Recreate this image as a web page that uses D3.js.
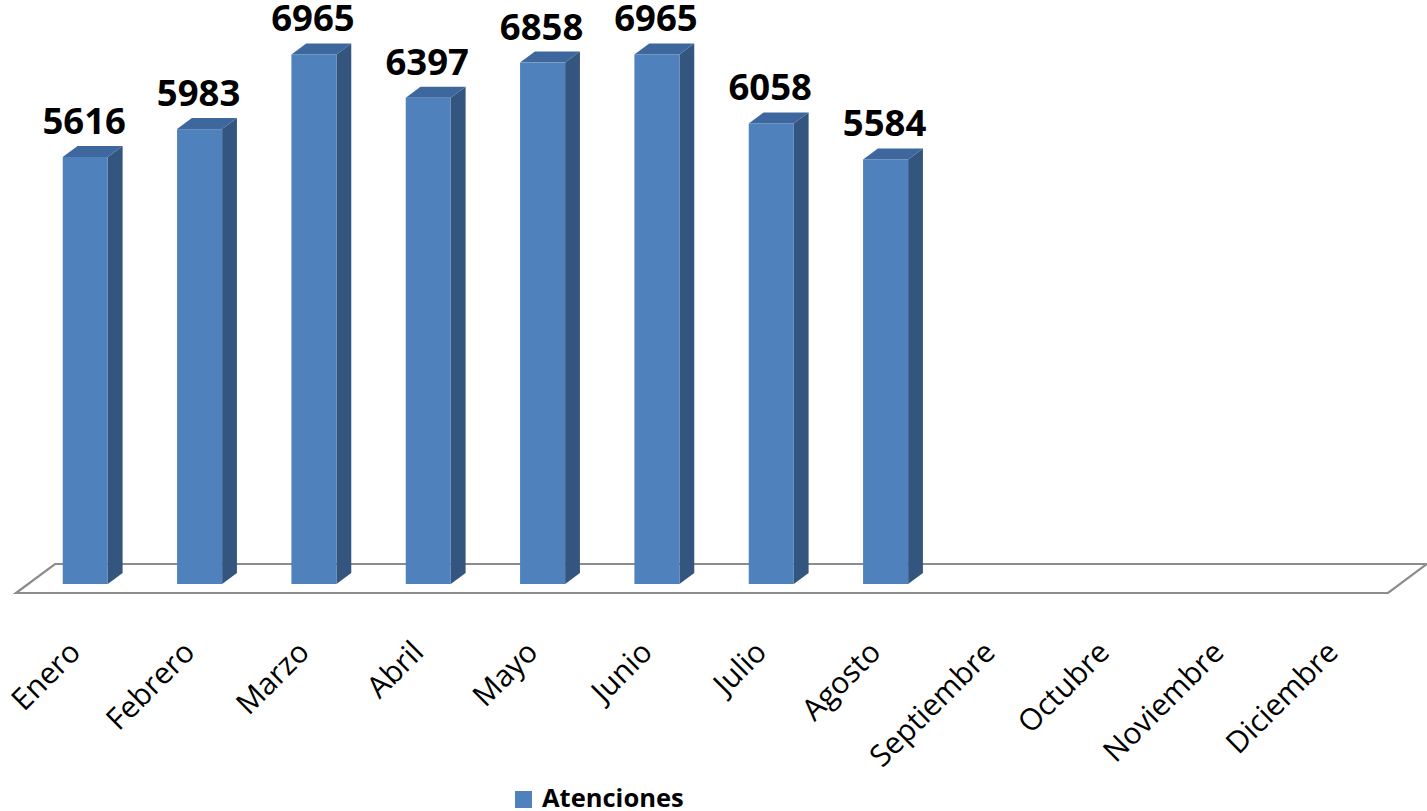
<!DOCTYPE html>
<html>
<head>
<meta charset="utf-8">
<script src="https://cdn.jsdelivr.net/npm/d3@7"></script>
<style>
  html, body { margin: 0; padding: 0; background: #ffffff; }
  svg { display: block; }
</style>
</head>
<body>
<svg id="chart" width="1427" height="811"></svg>
<script>
const categories = ["Enero", "Febrero", "Marzo", "Abril", "Mayo", "Junio", "Julio", "Agosto", "Septiembre", "Octubre", "Noviembre", "Diciembre"];
const values = [5616, 5983, 6965, 6397, 6858, 6965, 6058, 5584, null, null, null, null];
const seriesName = "Atenciones";

const svg = d3.select("#chart");

// floor geometry
const floorFrontY = 593;
const floorLeft = 16, floorRight = 1388;
const depth = { dx: 39, dy: -29 };
const barFront = 0.31, barBack = 0.69;
const fx = depth.dx * barFront, fy = depth.dy * barFront;
const bdx = depth.dx * (barBack - barFront), bdy = depth.dy * (barBack - barFront);

const x = d3.scaleBand()
  .domain(categories)
  .range([floorLeft + fx, floorRight + fx])
  .paddingInner(0.606)
  .paddingOuter(0.303);

const baseY = floorFrontY + fy;
const y = d3.scaleLinear().domain([0, 7000]).range([baseY, baseY - 7000 * 0.07603]);

const colFront = "#4F81BD", colSide = "#34557E", colTop = "#3D679D";

// floor
svg.append("path")
  .attr("d", `M${floorLeft},${floorFrontY} L${floorRight},${floorFrontY} L${floorRight + depth.dx},${floorFrontY + depth.dy} L${floorLeft + depth.dx},${floorFrontY + depth.dy} Z`)
  .attr("fill", "#ffffff")
  .attr("stroke", "#8c8c8c")
  .attr("stroke-width", 2.2)
  .attr("stroke-linejoin", "miter");

const data = categories.map((c, i) => ({ c, v: values[i] })).filter(d => d.v != null);
const bw = x.bandwidth();

const g = svg.append("g");
const bars = g.selectAll("g.bar").data(data).join("g").attr("class", "bar");

// side face
bars.append("path")
  .attr("fill", colSide)
  .attr("d", d => {
    const x1 = x(d.c) + bw, yt = y(d.v), yb = y(0);
    return `M${x1},${yb} L${x1},${yt} L${x1 + bdx},${yt + bdy} L${x1 + bdx},${yb + bdy} Z`;
  });
// top face
bars.append("path")
  .attr("fill", colTop)
  .attr("d", d => {
    const x0 = x(d.c), x1 = x0 + bw, yt = y(d.v);
    return `M${x0},${yt} L${x1},${yt} L${x1 + bdx},${yt + bdy} L${x0 + bdx},${yt + bdy} Z`;
  });
// front face
bars.append("rect")
  .attr("fill", colFront)
  .attr("x", d => x(d.c))
  .attr("y", d => y(d.v))
  .attr("width", bw)
  .attr("height", d => y(0) - y(d.v));

// value labels
bars.append("text")
  .attr("x", d => x(d.c) + bw / 2 - 1)
  .attr("y", d => y(d.v) - 23)
  .attr("text-anchor", "middle")
  .attr("font-family", "Open Sans, sans-serif")
  .attr("font-weight", "bold")
  .attr("font-size", 36.5)
  .attr("fill", "#000")
  .text(d => d.v);

// category labels
svg.append("g").selectAll("text").data(categories).join("text")
  .attr("transform", d => `translate(${x(d) + bw / 2 - 3},${654}) rotate(-45)`)
  .attr("text-anchor", "end")
  .attr("font-family", "Open Sans, sans-serif")
  .attr("font-size", 30)
  .attr("fill", "#000")
  .text(d => d);

// legend
const lg = svg.append("g");
lg.append("rect").attr("x", 515).attr("y", 791).attr("width", 17).attr("height", 17).attr("fill", colFront);
lg.append("text").attr("x", 542).attr("y", 807)
  .attr("font-family", "Open Sans, sans-serif")
  .attr("font-weight", "bold")
  .attr("font-size", 25.5)
  .attr("fill", "#000")
  .text(seriesName);
</script>
</body>
</html>
